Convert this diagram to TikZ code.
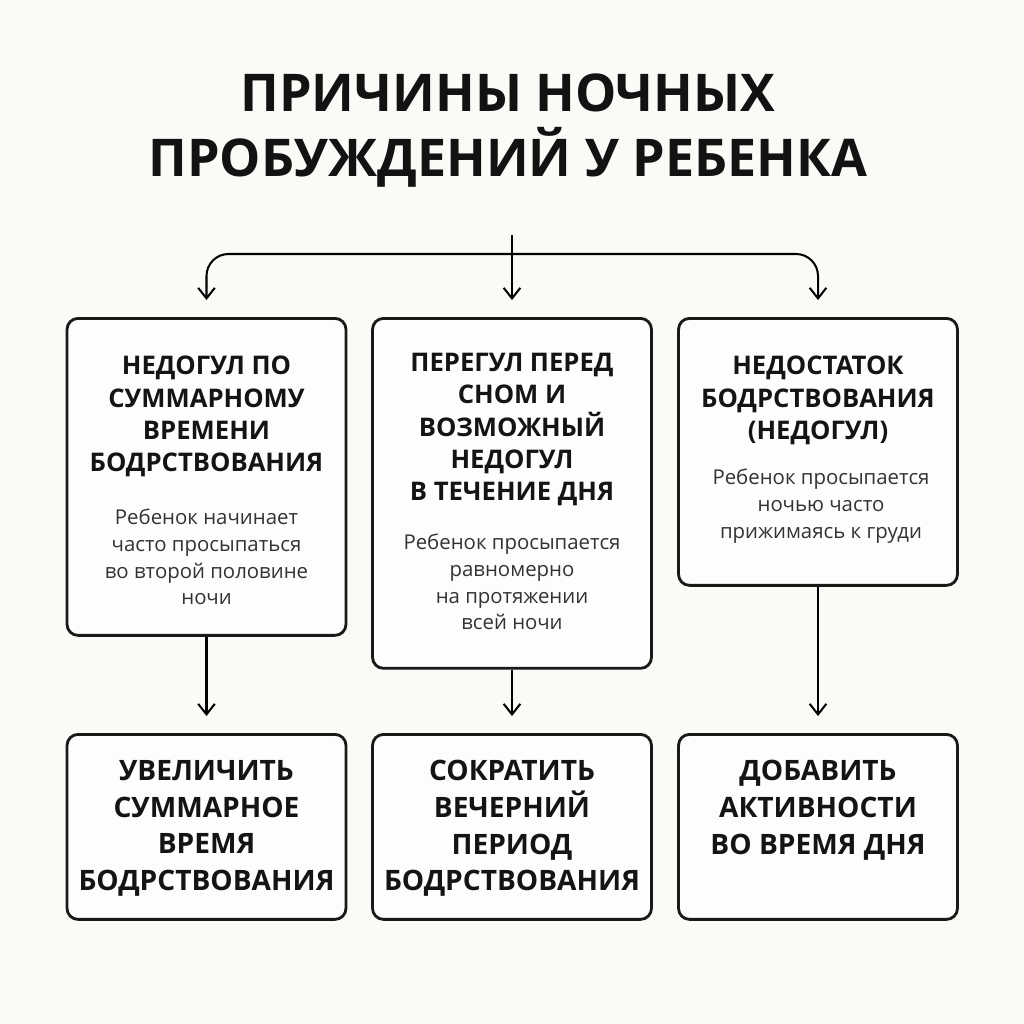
\documentclass[tikz,border=0pt]{standalone}
\usepackage{fontspec}
\setmainfont{Open Sans}
\usetikzlibrary{arrows.meta}

\definecolor{paper}{HTML}{FBFAF7}
\definecolor{boxfill}{HTML}{FDFDFB}
\definecolor{notegray}{HTML}{333333}

\tikzset{
  titletext/.style={align=center, inner sep=0pt, text=black!93,
    font=\bfseries\fontsize{29.6}{37}\selectfont},
  causebox/.style={draw=black!90, line width=1.6pt, rounded corners=0.22cm,
    fill=boxfill, minimum width=5.58cm, anchor=north, inner sep=0pt},
  headtext/.style={align=center, inner sep=0pt, anchor=north, text=black!92,
    font=\bfseries\fontsize{14.6}{18.4}\selectfont},
  notetext/.style={align=center, inner sep=0pt, anchor=north, text=notegray,
    font=\fontsize{11.6}{15.1}\selectfont},
  fixtext/.style={align=center, inner sep=0pt, anchor=north, text=black!92,
    font=\bfseries\fontsize{16.0}{20.9}\selectfont},
  arr/.style={-{Straight Barb[length=6pt,width=9.5pt]}, line width=1.15pt,
    shorten >=0.34cm}
}

\begin{document}
\begin{tikzpicture}[x=0.02cm, y=-0.02cm]
  % the paper
  \fill[paper] (0,0) rectangle (1024,1024);

  % the title
  \node[titletext] (title) at (508,131) {ПРИЧИНЫ НОЧНЫХ\\ПРОБУЖДЕНИЙ У РЕБЕНКА};

  % the boxes of the causes
  \node[causebox, minimum height=6.34cm] (cause1) at (206.5,317) {};
  \node[causebox, minimum height=7.00cm] (cause2) at (512,317) {};
  \node[causebox, minimum height=5.34cm] (cause3) at (818,317) {};

  % the boxes of the fixes
  \node[causebox, minimum height=3.70cm] (fix1) at (206.5,733) {};
  \node[causebox, minimum height=3.70cm] (fix2) at (512,733) {};
  \node[causebox, minimum height=3.70cm] (fix3) at (818,733) {};

  % the texts in the boxes
  \node[headtext] (head1) at (206.5,356) {НЕДОГУЛ ПО\\СУММАРНОМУ\\ВРЕМЕНИ\\БОДРСТВОВАНИЯ};
  \node[notetext] (note1) at (206.5,509) {Ребенок начинает\\часто просыпаться\\во второй половине\\ночи};
  \node[headtext] (head2) at (512,353) {ПЕРЕГУЛ ПЕРЕД\\СНОМ И\\ВОЗМОЖНЫЙ\\НЕДОГУЛ\\В ТЕЧЕНИЕ ДНЯ};
  \node[notetext] (note2) at (512,534) {Ребенок просыпается\\равномерно\\на протяжении\\всей ночи};
  \node[headtext] (head3) at (818,356) {НЕДОСТАТОК\\БОДРСТВОВАНИЯ\\(НЕДОГУЛ)};
  \node[notetext] (note3) at (821,469) {Ребенок просыпается\\ночью часто\\прижимаясь к груди};

  \node[fixtext] (fixtext1) at (206.5,760) {УВЕЛИЧИТЬ\\СУММАРНОЕ\\ВРЕМЯ\\БОДРСТВОВАНИЯ};
  \node[fixtext] (fixtext2) at (512,760) {СОКРАТИТЬ\\ВЕЧЕРНИЙ\\ПЕРИОД\\БОДРСТВОВАНИЯ};
  \node[fixtext] (fixtext3) at (818,760) {ДОБАВИТЬ\\АКТИВНОСТИ\\ВО ВРЕМЯ ДНЯ};

  % the arrows from the title
  \coordinate (top) at (512,235);
  \coordinate (fork) at (512,254);
  \draw[arr] (top) -- (cause2);
  \draw[arr, rounded corners=0.44cm] (fork) -| (cause1);
  \draw[arr, rounded corners=0.44cm] (fork) -| (cause3);

  % the arrows from causes to fixes
  \draw[arr] (cause1) -- (fix1);
  \draw[arr] (cause2) -- (fix2);
  \draw[arr] (cause3) -- (fix3);
\end{tikzpicture}
\end{document}
